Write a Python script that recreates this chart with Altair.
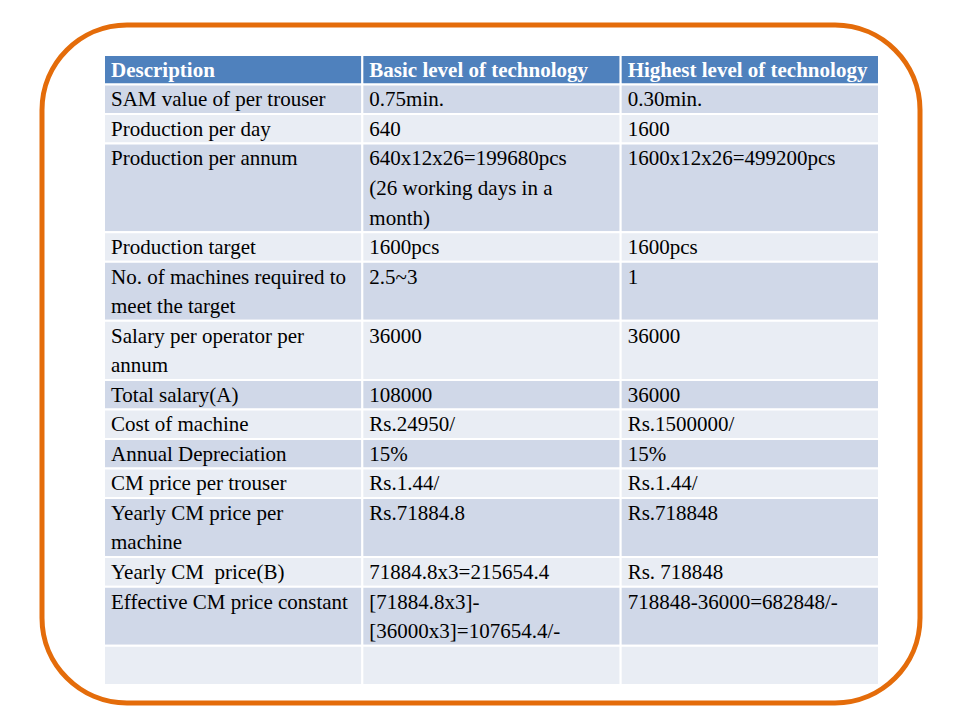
import altair as alt
import pandas as pd

# ---- table content (as wrapped in the reference) ----
header = ["Description", "Basic level of technology", "Highest level of technology"]

description = [
    ["SAM value of per trouser"],
    ["Production per day"],
    ["Production per annum"],
    ["Production target"],
    ["No. of machines required to", "meet the target"],
    ["Salary per operator per", "annum"],
    ["Total salary(A)"],
    ["Cost of machine"],
    ["Annual Depreciation"],
    ["CM price per trouser"],
    ["Yearly CM price per", "machine"],
    ["Yearly CM\u00a0 price(B)"],
    ["Effective CM price constant"],
    [""],
]

basic = [
    ["0.75min."],
    ["640"],
    ["640x12x26=199680pcs", "(26 working days in a", "month)"],
    ["1600pcs"],
    ["2.5~3"],
    ["36000"],
    ["108000"],
    ["Rs.24950/"],
    ["15%"],
    ["Rs.1.44/"],
    ["Rs.71884.8"],
    ["71884.8x3=215654.4"],
    ["[71884.8x3]-", "[36000x3]=107654.4/-"],
    [""],
]

highest = [
    ["0.30min."],
    ["1600"],
    ["1600x12x26=499200pcs"],
    ["1600pcs"],
    ["1"],
    ["36000"],
    ["36000"],
    ["Rs.1500000/"],
    ["15%"],
    ["Rs.1.44/"],
    ["Rs.718848"],
    ["Rs. 718848"],
    ["718848-36000=682848/-"],
    [""],
]

# ---- layout (in "line" units) ----
EMPTY_ROW_LINES = 1.33
BASELINE = 0.74

rows = [[[h] for h in header]] + [list(t) for t in zip(description, basic, highest)]

rect_records = []
text_records = []
start = 0.0
for r, cells in enumerate(rows):
    n = max(len(c) for c in cells)
    if all(c == [""] for c in cells):
        n = EMPTY_ROW_LINES
    if r == 0:
        band = "header"
    elif r % 2 == 1:
        band = "band1"
    else:
        band = "band2"
    for c, cell in enumerate(cells):
        rect_records.append(dict(x=c, x2=c + 1, y=start, y2=start + n, band=band))
        for k, line in enumerate(cell):
            if line:
                text_records.append(dict(x=c, y=start + k + BASELINE, text=line,
                                         kind="header" if r == 0 else "body"))
    start += n
total = start

rects = pd.DataFrame(rect_records)
texts = pd.DataFrame(text_records)

xscale = alt.Scale(domain=[0, 3], range=[62, 837], nice=False, zero=False)
yscale = alt.Scale(domain=[0, total], range=[30, 660], nice=False, zero=False)

cells = alt.Chart(rects).mark_rect(stroke="white", strokeWidth=2).encode(
    x=alt.X("x:Q", scale=xscale, axis=None),
    x2="x2:Q",
    y=alt.Y("y:Q", scale=yscale, axis=None),
    y2="y2:Q",
    color=alt.Color("band:N", legend=None,
                    scale=alt.Scale(domain=["header", "band1", "band2"],
                                    range=["#4F81BD", "#D0D8E8", "#E9EDF4"])),
)

head_text = alt.Chart(texts[texts.kind == "header"]).mark_text(
    align="left", baseline="alphabetic", dx=7, font="Liberation Serif",
    fontSize=21, fontWeight="bold", color="white"
).encode(
    x=alt.X("x:Q", scale=xscale, axis=None),
    y=alt.Y("y:Q", scale=yscale, axis=None),
    text="text:N",
)

body_text = alt.Chart(texts[texts.kind == "body"]).mark_text(
    align="left", baseline="alphabetic", dx=7, font="Liberation Serif",
    fontSize=21, color="black"
).encode(
    x=alt.X("x:Q", scale=xscale, axis=None),
    y=alt.Y("y:Q", scale=yscale, axis=None),
    text="text:N",
)

chart = alt.layer(cells, head_text, body_text).properties(
    width=878, height=678,
    autosize="none",
    padding={"left": 34, "top": 17, "right": 8, "bottom": 8},
).configure_view(
    stroke="#E46C0A", strokeWidth=5, cornerRadius=85, fill="white"
)

chart.save("out.html", embed_options={"renderer": "svg", "actions": False})
